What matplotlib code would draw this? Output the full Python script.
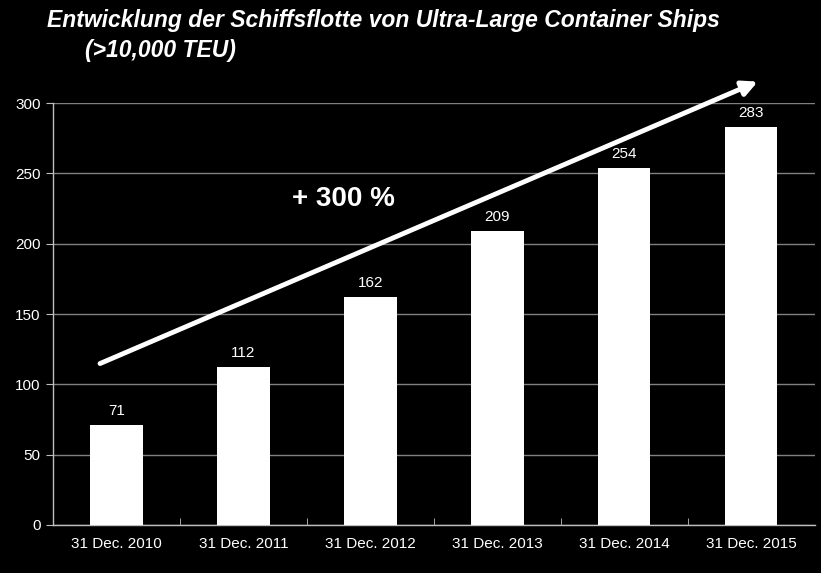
import matplotlib
matplotlib.use('Agg')
import matplotlib.pyplot as plt

categories = ['31 Dec. 2010', '31 Dec. 2011', '31 Dec. 2012',
              '31 Dec. 2013', '31 Dec. 2014', '31 Dec. 2015']
ships = [71, 112, 162, 209, 254, 283]
y_ticks = [0, 50, 100, 150, 200, 250, 300]

plt.rcParams['font.family'] = ['Liberation Sans', 'DejaVu Sans']

fig = plt.figure(figsize=(8.21, 5.73), dpi=100, facecolor='black')
ax = fig.add_axes([0.0646, 0.0838, 0.928, 0.7364], facecolor='black')

x = list(range(len(categories)))
bars = ax.bar(x, ships, width=0.41, color='white', zorder=3)

for xi, v in zip(x, ships):
    ax.text(xi, v + 5, str(v), ha='center', va='bottom',
            color='white', fontsize=11, zorder=4)

ax.set_ylim(0, 300)
ax.set_xlim(-0.5, len(categories) - 0.5)
ax.set_yticks(y_ticks)
ax.set_xticks(x)
ax.set_xticklabels(categories)
ax.set_xticks([i + 0.5 for i in x[:-1]], minor=True)
ax.tick_params(axis='x', which='major', length=0, colors='white',
               labelsize=11, pad=9)
ax.tick_params(axis='x', which='minor', length=5, color='#bfbfbf',
               direction='in')
ax.tick_params(axis='y', length=5, color='#bfbfbf', labelcolor='white',
               labelsize=11, pad=4)

ax.grid(axis='y', color='#808080', linewidth=1, zorder=0)
for s in ['top', 'right']:
    ax.spines[s].set_visible(False)
for s in ['left', 'bottom']:
    ax.spines[s].set_color('#bfbfbf')
    ax.spines[s].set_linewidth(1)

# trend arrow
ax.annotate('', xy=(5.07, 316), xytext=(-0.15, 114),
            arrowprops=dict(arrowstyle='-|>,head_length=0.9,head_width=0.45',
                            color='white', lw=3.5),
            annotation_clip=False, zorder=5)
ax.text(1.79, 232, '+ 300 %', color='white', fontsize=20,
        fontweight='bold', ha='center', va='center')

fig.text(0.057, 0.965, 'Entwicklung der Schiffsflotte von Ultra-Large Container Ships',
         color='white', fontsize=16.5, fontweight='bold', style='italic',
         va='center')
fig.text(0.1035, 0.912, '(>10,000 TEU)',
         color='white', fontsize=16.5, fontweight='bold', style='italic',
         va='center')

fig.savefig('out.png', dpi=100, facecolor='black')
